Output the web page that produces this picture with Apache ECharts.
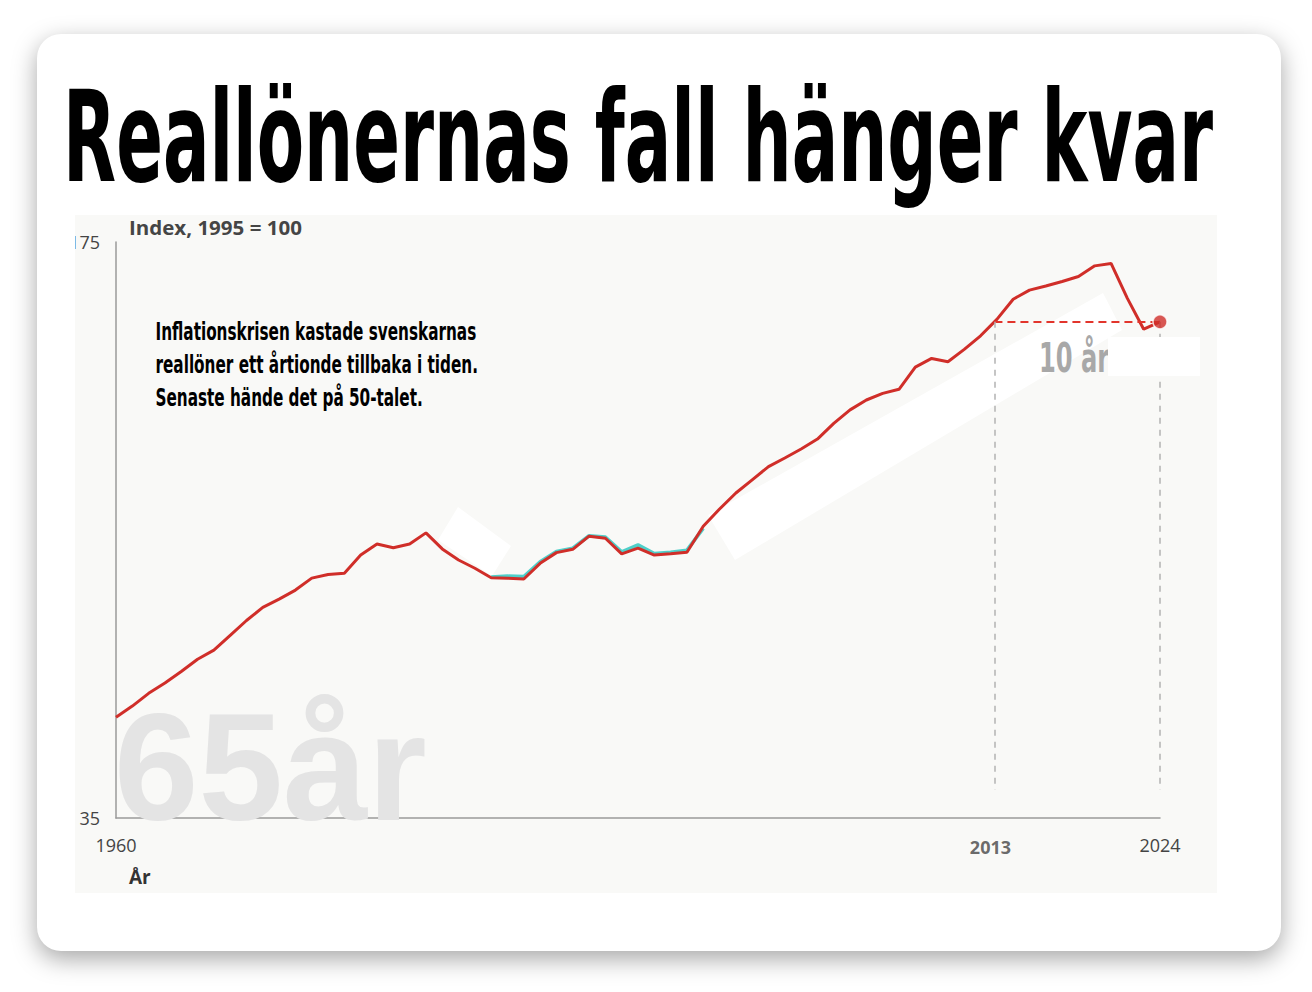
<!DOCTYPE html>
<html><head><meta charset="utf-8">
<script src="https://cdn.jsdelivr.net/npm/echarts@6/dist/echarts.min.js"></script>
<style>
html,body{margin:0;padding:0;background:#fff;width:1312px;height:992px;overflow:hidden;}
#card{position:absolute;left:37px;top:34px;width:1244px;height:917px;background:#fff;border-radius:24px;box-shadow:0 8px 24px rgba(0,0,0,0.35);}
#title{position:absolute;left:63px;top:75px;white-space:nowrap;font-weight:bold;font-size:126px;line-height:126px;font-family:"Liberation Sans Narrow","DejaVu Sans Condensed","Liberation Sans",sans-serif;color:#000;transform-origin:0 0;}
#panel{position:absolute;left:75px;top:215px;width:1142px;height:678px;background:#f9f9f7;overflow:hidden;}
#chart{width:1142px;height:678px;}
</style></head>
<body>
<div id="card"></div>
<div id="title">Reallönernas fall hänger kvar</div>
<div id="panel"><div id="chart"></div></div>
<script>
// ---- data ----
const years = [1960,1961,1962,1963,1964,1965,1966,1967,1968,1969,
               1970,1971,1972,1973,1974,1975,1976,1977,1978,1979,
               1980,1981,1982,1983,1984,1985,1986,1987,1988,1989,
               1990,1991,1992,1993,1994,1995,1996,1997,1998,1999,
               2000,2001,2002,2003,2004,2005,2006,2007,2008,2009,
               2010,2011,2012,2013,2014,2015,2016,2017,2018,2019,
               2020,2021,2022,2023,2024];
const realWage = [59.5,62.2,65.3,67.8,70.6,73.6,75.8,79.4,83.0,86.2,
                  88.2,90.4,93.3,94.2,94.5,98.9,101.6,100.7,101.6,104.3,
                  100.4,97.7,95.7,93.4,93.3,93.1,96.9,99.5,100.3,103.5,
                  103.0,99.2,100.6,98.9,99.2,99.6,105.9,110.1,114.0,117.2,
                  120.4,122.5,124.7,127.1,130.9,134.2,136.6,138.2,139.2,144.6,
                  146.7,145.9,148.9,152.2,156.2,161.1,163.3,164.3,165.4,166.6,
                  169.2,169.8,161.3,153.8,155.6];
const altYears = [1983,1984,1985,1986,1987,1988,1989,1990,1991,1992,1993,1994,1995,1996];
const altWage  = [93.6,93.8,93.7,97.3,99.8,100.6,103.6,103.3,99.7,101.4,99.3,99.6,100.1,105.4];
const yTicks = [35, 175];
const xTicks = [1960, 2024];
const markedYears = [1979, 1995, 2021];
const dashBottom = 41.8;
const yTitle = 'Index, 1995 = 100';
const xTitle = 'År';
const noteLines = ['Inflationskrisen kastade svenskarnas','reallöner ett årtionde tillbaka i tiden.','Senaste hände det på 50-talet.'];
const bigLabel = '65år';
const spanLabel = '10 år';

// ---- derived ----
const lastIdx = years.length - 1;
const lastYear = years[lastIdx], lastVal = realWage[lastIdx];
let crossYear = lastYear;
for (let i = 0; i < lastIdx; i++) {
  if (realWage[i] <= lastVal && realWage[i+1] > lastVal) {
    crossYear = years[i] + (lastVal - realWage[i]) / (realWage[i+1] - realWage[i]);
    break;
  }
}
const crossLabel = String(Math.floor(crossYear));

function measure(text, font){ const c=document.createElement('canvas').getContext('2d'); c.font=font; return c.measureText(text).width; }

// title condense
const titleEl = document.getElementById('title');
const tw = titleEl.getBoundingClientRect().width;
titleEl.style.transform = 'scaleX(' + (1150 / tw) + ')';

const condFont = '"Liberation Sans Narrow","DejaVu Sans Condensed","Liberation Sans",sans-serif';
const noteFont = 'bold 24px ' + condFont;
const noteScale = 321 / measure(noteLines[0], noteFont);
const spanFont = 'bold 40px ' + condFont;
const spanScale = noteScale * 0.95;
const labelFont = '"Open Sans",sans-serif';
const yTitleFont = 'bold 20px ' + labelFont;
const yTitleScale = 173 / measure(yTitle, yTitleFont);

const RED = '#d02e29';
const labelOpts = {
  1979: {position:'bottom', distance:24, offset:[-4,0]},
  1995: {position:'bottom', distance:12, offset:[0,0]},
  2021: {position:'top', distance:4, offset:[0,0]}
};
const mainData = years.map((y,i) => {
  const item = {value:[y, realWage[i]]};
  if (markedYears.includes(y)) {
    item.label = Object.assign({show:true, formatter:String(y), color:'#333', fontSize:14, fontWeight:600, fontFamily:labelFont}, labelOpts[y]);
  }
  return item;
});

const chart = echarts.init(document.getElementById('chart'), null, {renderer:'svg'});
const grayDash = {color:'#b3b3b3', type:[6,6], width:1.5};
chart.setOption({
  animation:false,
  grid:{left:41, top:27, right:57, bottom:75, containLabel:false, outerBoundsMode:'none'},
  xAxis:{type:'value', min:xTicks[0], max:xTicks[1], interval:xTicks[1]-xTicks[0],
    axisLine:{lineStyle:{color:'#9a9a9a', width:1.5}}, axisTick:{show:false}, splitLine:{show:false},
    axisLabel:{margin:18, fontSize:18, color:'#444', fontFamily:labelFont, formatter:v=>String(v)}},
  yAxis:{type:'value', min:yTicks[0], max:yTicks[1], interval:yTicks[1]-yTicks[0],
    axisLine:{show:true, lineStyle:{color:'#9a9a9a', width:1.5}}, axisTick:{show:false}, splitLine:{show:false},
    axisLabel:{margin:16, fontSize:18, color:'#444', fontFamily:labelFont, formatter:v=>String(v)}},
  series:[
    {type:'line', z:3, data:altYears.map((y,i)=>[y, altWage[i]]), showSymbol:false, symbol:'none',
     lineStyle:{color:'#4fcfc9', width:3.5}},
    {type:'line', z:4, data:mainData, showSymbol:false, symbol:'none', lineStyle:{color:RED, width:3},
     markLine:{silent:true, symbol:'none', label:{show:false},
       data:[
         [{coord:[crossYear, lastVal], lineStyle:{color:'#e2352c', type:[8,5], width:2}}, {coord:[lastYear, lastVal]}],
         [{coord:[crossYear, lastVal], lineStyle:grayDash}, {coord:[crossYear, dashBottom]}],
         [{coord:[lastYear, lastVal], lineStyle:grayDash}, {coord:[lastYear, dashBottom]}]
       ]}},
    {type:'scatter', z:6, data:[[lastYear, lastVal]], symbol:'circle', symbolSize:14,
     itemStyle:{color:RED, borderColor:'#fff', borderWidth:1.5}},
    {type:'scatter', z:6, data:[[crossYear, yTicks[0]]], symbolSize:0, clip:false,
     label:{show:true, position:'bottom', distance:20, offset:[-4,0], formatter:crossLabel,
       fontSize:18, fontWeight:'bold', color:'#444', fontFamily:labelFont}}
  ],
  graphic:{elements:[
    {type:'text', z:1, x:39, y:552, style:{text:bigLabel, font:'bold 152px "Liberation Sans",Arial,sans-serif', fill:'#e4e4e4', verticalAlign:'middle'}},
    {type:'polygon', z:1, shape:{points:[[383,292],[436,331],[417,361],[363,325]]}, style:{fill:'#ffffff'}},
    {type:'polygon', z:1, shape:{points:[[633,300],[1028,78],[1047,115],[660,345]]}, style:{fill:'#ffffff'}},
    {type:'text', z:2, x:54, y:12, scaleX:yTitleScale, style:{text:yTitle, font:yTitleFont, fill:'#454545', verticalAlign:'middle'}},
    {type:'text', z:2, x:54, y:662, style:{text:xTitle, font:'bold 19px ' + labelFont, fill:'#333', verticalAlign:'middle'}},
    {type:'text', z:5, x:80.5, y:117, scaleX:noteScale, style:{text:noteLines[0], font:noteFont, fill:'#000', verticalAlign:'middle'}},
    {type:'text', z:5, x:80.5, y:150, scaleX:noteScale, style:{text:noteLines[1], font:noteFont, fill:'#000', verticalAlign:'middle'}},
    {type:'text', z:5, x:80.5, y:183, scaleX:noteScale, style:{text:noteLines[2], font:noteFont, fill:'#000', verticalAlign:'middle'}},
    {type:'text', z:5, x:964, y:143, scaleX:spanScale, style:{text:spanLabel, font:spanFont, fill:'#a8a8a8', verticalAlign:'middle'}},
    {type:'rect', z:100, shape:{x:1033, y:122, width:92, height:39}, style:{fill:'#ffffff'}}
  ]}
});
</script>
</body></html>
